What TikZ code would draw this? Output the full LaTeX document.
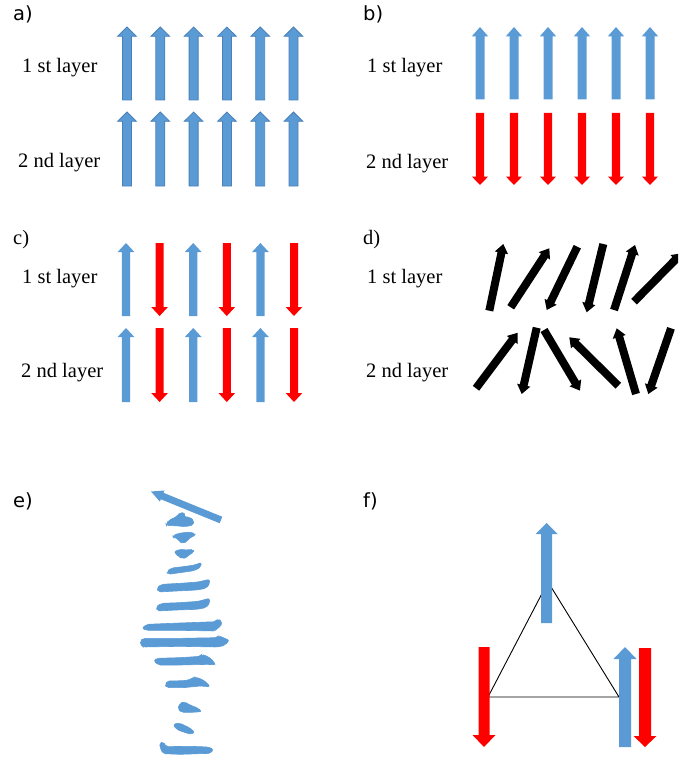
\documentclass[tikz,border=0pt]{standalone}
\usepackage{fontspec}
\setmainfont{Liberation Serif}
\newfontfamily\labelsans{DejaVu Sans}
\definecolor{spinblue}{HTML}{5B9BD5}
\definecolor{spinedge}{HTML}{4A80B8}
\definecolor{spinred}{HTML}{FF0000}

% block arrow: [style]{tail x}{tail y}{tip x}{tip y}{shaft width}{head width}{head length}
\newcommand\barrow[8][]{%
  \pgfmathsetmacro\bdx{(#4)-(#2)}%
  \pgfmathsetmacro\bdy{(#3)-(#5)}%
  \pgfmathsetmacro\bang{atan2(\bdy,\bdx)}%
  \pgfmathsetmacro\blen{veclen(\bdx,\bdy)}%
  \pgfmathsetmacro\bhb{\blen-(#8)}%
  \path[#1,shift={(#2,#3)},rotate=\bang]
    (0,-#6/2) -- (\bhb,-#6/2) -- (\bhb,-#7/2) -- (\blen,0)
    -- (\bhb,#7/2) -- (\bhb,#6/2) -- (0,#6/2) -- cycle;
}

\begin{document}
\begin{tikzpicture}[x=1pt,y=-1pt,
  layertext/.style={anchor=base west,inner sep=0pt,font=\fontsize{20.5}{24}\selectfont},
  panelsans/.style={anchor=base west,inner sep=0pt,font=\labelsans\fontsize{19.5}{23}\selectfont},
  panelserif/.style={anchor=base west,inner sep=0pt,font=\fontsize{20.5}{24}\selectfont},
  bluespin/.style={fill=spinblue},
  blueline/.style={fill=spinblue,draw=spinedge,line width=0.8pt},
  redspin/.style={fill=spinred},
  blackspin/.style={fill=black},
  eshape/.style={fill=spinblue,draw=spinblue,line width=0.6pt,rounded corners=2pt},
  bond/.style={draw=black,line width=0.9pt}]
\useasboundingbox (0,0) rectangle (678,757);
\clip (0,0) rectangle (678,757);

% ---------- panel a: ferromagnetic layers ----------
\node[panelsans] (la) at (13,21) {a)};
\node[layertext] (a1) at (22,73) {1 st layer};
\node[layertext] (a2) at (18,167) {2 nd layer};
\foreach \i in {0,...,5}{
  \pgfmathsetmacro\xc{127+33.3*\i}
  \barrow[blueline]{\xc}{100}{\xc}{27}{9}{18.7}{9.3}
  \barrow[blueline]{\xc}{186}{\xc}{112}{9}{18.7}{9.3}
}

% ---------- panel b: antiparallel layers ----------
\node[panelsans] (lb) at (363,21) {b)};
\node[layertext] (b1) at (367,73) {1 st layer};
\node[layertext] (b2) at (366,168) {2 nd layer};
\foreach \i in {0,...,5}{
  \pgfmathsetmacro\xc{480+34*\i}
  \barrow[bluespin]{\xc}{99.5}{\xc}{27}{9}{16.3}{9.3}
  \barrow[redspin]{\xc}{113}{\xc}{185}{8.3}{16.3}{8.5}
}

% ---------- panel c: alternating spins ----------
\node[panelserif] (lc) at (13,244) {c)};
\node[layertext] (c1) at (22,283) {1 st layer};
\node[layertext] (c2) at (21,377) {2 nd layer};
\foreach \i in {0,2,4}{
  \pgfmathsetmacro\xb{126+33.6*\i}
  \pgfmathsetmacro\xr{126+33.6*(\i+1)}
  \barrow[bluespin]{\xb}{316}{\xb}{243}{8.3}{16.7}{9}
  \barrow[bluespin]{\xb}{402}{\xb}{328}{8.3}{16.7}{9}
  \barrow[redspin]{\xr}{243}{\xr}{316}{8}{16.7}{9}
  \barrow[redspin]{\xr}{328}{\xr}{402}{8}{16.7}{9}
}

% ---------- panel d: disordered spins ----------
\node[panelserif] (ld) at (363,244) {d)};
\node[layertext] (d1) at (367,283) {1 st layer};
\node[layertext] (d2) at (366,377) {2 nd layer};
\foreach \tx/\ty/\hx/\hy in {
  489.3/310.7/503.3/244, 510.7/307.3/549.3/248.3, 577.3/246.7/546.7/310,
  603.3/244/586.7/312.3, 614/310/635/245, 634/301.7/681.7/253.3,
  476/388.3/517.7/332.7, 536.7/327.7/521.7/394, 544/330/580/390.7,
  618.3/385.7/569.3/337.3, 636/394/616.7/328.3, 671/328.3/648.3/394}{
  \barrow[blackspin]{\tx}{\ty}{\hx}{\hy}{8}{13.5}{9}
}

% ---------- panel e: spin spiral ----------
\node[panelsans] (le) at (13,507) {e)};
\barrow[fill=spinblue]{221}{520}{151}{491.5}{7}{12}{12}
\begin{scope}[shift={(130,480)},x=0.3333pt,y=-0.3333pt]
  \filldraw[eshape] (108,132) -- (118,120) -- (140,110) -- (150,97) -- (165,100) -- (162,110) -- (180,112) -- (192,122) -- (190,135) -- (165,140) -- (135,137) -- (110,137) -- cycle;
  \filldraw[eshape] (128,168) -- (145,160) -- (180,156) -- (196,162) -- (190,170) -- (176,174) -- (173,183) -- (160,190) -- (147,186) -- (145,175) -- (132,174) -- cycle;
  \filldraw[eshape] (132,216) -- (148,208) -- (172,210) -- (190,208) -- (192,218) -- (178,222) -- (172,232) -- (158,236) -- (145,230) -- (140,222) -- cycle;
  \filldraw[eshape] (110,275) -- (125,264) -- (160,260) -- (195,255) -- (214,247) -- (212,262) -- (192,272) -- (150,278) -- (115,283) -- cycle;
  \filldraw[eshape] (80,324) -- (95,313) -- (150,310) -- (205,306) -- (238,298) -- (240,310) -- (228,325) -- (200,330) -- (140,333) -- (85,336) -- cycle;
  \filldraw[eshape] (78,380) -- (95,370) -- (150,368) -- (205,364) -- (238,355) -- (240,368) -- (228,383) -- (200,388) -- (140,390) -- (82,393) -- cycle;
\end{scope}
\begin{scope}[shift={(130,615)},x=0.3333pt,y=-0.3333pt]
  \filldraw[eshape] (36,40) -- (50,28) -- (150,24) -- (258,20) -- (262,12) -- (276,18) -- (272,36) -- (260,40) -- (255,48) -- (150,46) -- (50,46) -- cycle;
  \filldraw[eshape] (30,78) -- (40,70) -- (150,70) -- (262,68) -- (266,62) -- (298,76) -- (285,90) -- (270,95) -- (260,96) -- (150,94) -- (40,96) -- (33,90) -- cycle;
  \filldraw[eshape] (72,138) -- (80,130) -- (150,128) -- (212,124) -- (215,118) -- (235,125) -- (252,140) -- (255,150) -- (238,148) -- (150,150) -- (85,150) -- cycle;
  \filldraw[eshape] (105,208) -- (112,198) -- (165,197) -- (185,192) -- (192,186) -- (215,192) -- (232,205) -- (240,215) -- (210,213) -- (160,218) -- (110,218) -- cycle;
  \filldraw[eshape] (143,282) -- (150,265) -- (162,260) -- (180,270) -- (205,280) -- (215,290) -- (185,292) -- (155,292) -- cycle;
  \filldraw[eshape] (130,328) -- (148,324) -- (178,338) -- (193,350) -- (186,358) -- (162,352) -- (138,342) -- cycle;
  \filldraw[eshape] (88,385) -- (100,380) -- (108,395) -- (180,394) -- (235,396) -- (250,403) -- (242,415) -- (150,418) -- (100,416) -- (93,405) -- cycle;
\end{scope}

% ---------- panel f: frustrated triangle ----------
\node[panelsans] (lf) at (363,507) {f)};
\coordinate (vl) at (488,697);
\coordinate (vr) at (619,697);
\coordinate (vt) at (548,582);
\draw[bond] (vl) -- (vt) -- (vr) -- cycle;
\barrow[bluespin]{546.5}{623}{546.5}{523}{11}{22}{11}
\barrow[redspin]{484}{647}{484}{747}{11}{23}{12}
\barrow[bluespin]{625}{747}{625}{647}{12}{23}{12}
\barrow[redspin]{645}{648}{645}{747}{12}{23}{11}
\end{tikzpicture}
\end{document}
